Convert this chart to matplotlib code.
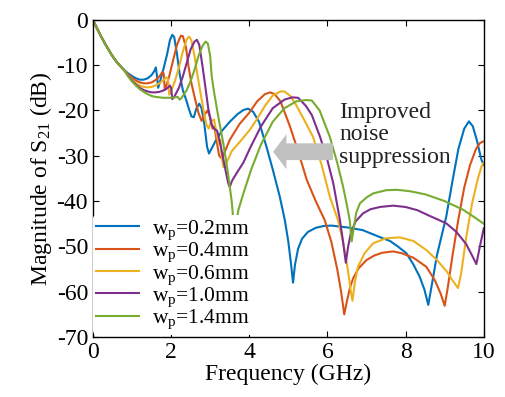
import matplotlib
matplotlib.use("Agg")
import matplotlib.pyplot as plt

# shared low-frequency part (all widths start identically)
f_start = [0, 0.1, 0.2, 0.3, 0.4, 0.5, 0.6, 0.7, 0.8]
s_start = [0, -1.8, -3.5, -5.1, -6.6, -8.0, -9.2, -10.2, -11.1]

# wp = 0.2mm
f_02 = [0.9, 1.0, 1.1, 1.2, 1.3, 1.4, 1.5, 1.57, 1.61, 1.64, 1.67, 1.72, 1.8, 1.9, 1.97,
        2.03, 2.08, 2.15, 2.22, 2.3, 2.38, 2.45, 2.52, 2.58, 2.65, 2.72, 2.78, 2.85, 2.92,
        2.97, 3.03, 3.15, 3.3, 3.5, 3.7, 3.85, 3.97, 4.1, 4.25, 4.44, 4.6, 4.78, 4.91, 5.0,
        5.07, 5.12, 5.17, 5.25, 5.35, 5.5, 5.7, 5.9, 6.1, 6.5, 6.9, 7.3, 7.6, 7.8, 8.02,
        8.2, 8.36, 8.48, 8.58, 8.66, 8.8, 9.04, 9.2, 9.35, 9.5, 9.62, 9.72, 9.82, 9.94, 10]
s_02 = [-11.8, -12.4, -12.9, -13.2, -13.2, -12.9, -12.2, -11.3, -10.5, -12.5, -15.0, -13.5,
        -11.0, -7.5, -4.5, -3.3, -3.8, -7.5, -12.0, -15.5, -17.5, -19.5, -21.3, -21.5, -19.5,
        -18.5, -19.5, -23.0, -28.0, -29.5, -28.5, -26.5, -24.5, -22.5, -20.8, -19.9, -19.6,
        -20.3, -22.5, -28.0, -33.0, -39.0, -44.2, -49.0, -54.0, -58.0, -54.0, -50.5, -48.3,
        -46.8, -45.9, -45.5, -45.4, -45.8, -46.4, -47.8, -48.8, -50.0, -51.5, -54.0, -56.7,
        -59.5, -62.9, -59.0, -52.0, -43.4, -35.5, -28.5, -24.0, -22.4, -23.5, -26.5, -30.9, -32.0]

# wp = 0.4mm
f_04 = [0.9, 1.0, 1.1, 1.2, 1.3, 1.4, 1.5, 1.6, 1.7, 1.78, 1.81, 1.84, 1.88, 1.95, 2.05,
        2.15, 2.25, 2.3, 2.38, 2.45, 2.52, 2.6, 2.7, 2.78, 2.85, 2.93, 3.0, 3.06, 3.11, 3.17,
        3.23, 3.29, 3.38, 3.5, 3.75, 4.0, 4.2, 4.4, 4.53, 4.65, 4.8, 5.04, 5.25, 5.47, 5.7,
        5.93, 6.1, 6.25, 6.35, 6.43, 6.5, 6.58, 6.66, 6.8, 7.0, 7.2, 7.4, 7.68, 7.9, 8.2,
        8.53, 8.75, 8.9, 9.0, 9.08, 9.2, 9.35, 9.5, 9.65, 9.8, 9.9, 10]
s_04 = [-12.0, -12.8, -13.4, -13.8, -14.0, -14.0, -13.8, -13.3, -12.5, -11.5, -11.8, -15.5,
        -14.5, -12.5, -9.0, -5.5, -3.5, -3.6, -6.0, -10.5, -14.0, -17.0, -20.5, -22.3, -21.0,
        -20.0, -21.5, -24.0, -23.5, -27.0, -30.0, -30.5, -29.0, -26.5, -23.0, -20.5, -18.0,
        -16.4, -16.0, -16.4, -18.0, -23.5, -29.0, -35.3, -40.0, -44.2, -49.0, -55.0, -60.0,
        -65.0, -62.0, -59.0, -57.0, -54.8, -53.0, -52.0, -51.4, -51.1, -51.5, -52.5, -54.5,
        -57.5, -60.5, -63.1, -59.0, -52.0, -44.0, -37.0, -32.0, -28.5, -27.2, -26.8]

# wp = 0.6mm
f_06 = [0.9, 1.0, 1.1, 1.2, 1.3, 1.4, 1.5, 1.6, 1.7, 1.8, 1.88, 1.92, 1.95, 2.0, 2.1, 2.2,
        2.3, 2.4, 2.46, 2.52, 2.6, 2.68, 2.75, 2.82, 2.9, 2.96, 3.02, 3.1, 3.16, 3.22, 3.26,
        3.3, 3.34, 3.42, 3.55, 3.8, 4.02, 4.19, 4.4, 4.6, 4.8, 4.9, 5.05, 5.2, 5.4, 5.63,
        5.85, 6.06, 6.27, 6.4, 6.52, 6.6, 6.64, 6.7, 6.78, 6.95, 7.17, 7.5, 7.85, 8.2, 8.53,
        8.8, 9.05, 9.2, 9.34, 9.42, 9.55, 9.7, 9.85, 9.94, 10]
s_06 = [-12.2, -13.2, -14.0, -14.5, -14.8, -14.9, -14.8, -14.5, -14.0, -13.3, -12.7, -13.0,
        -16.5, -15.8, -13.5, -10.5, -7.0, -4.3, -3.7, -4.5, -8.0, -12.5, -16.0, -19.5, -23.0,
        -24.0, -22.5, -22.0, -25.0, -27.5, -26.5, -30.5, -32.5, -31.5, -29.0, -26.5, -24.2,
        -22.0, -19.0, -16.7, -15.8, -15.8, -16.8, -18.8, -22.0, -25.8, -32.0, -39.0, -44.2,
        -49.0, -55.0, -60.0, -62.0, -58.0, -54.5, -51.5, -49.3, -48.2, -48.0, -48.8, -50.8,
        -53.0, -55.5, -57.5, -59.2, -56.0, -48.0, -40.5, -35.0, -32.4, -31.5]

# wp = 1.0mm
f_10 = [0.9, 1.0, 1.1, 1.2, 1.3, 1.4, 1.5, 1.6, 1.7, 1.8, 1.9, 1.97, 2.0, 2.03, 2.08, 2.2,
        2.3, 2.4, 2.5, 2.6, 2.66, 2.72, 2.8, 2.88, 2.95, 3.03, 3.1, 3.18, 3.25, 3.33, 3.4,
        3.46, 3.5, 3.56, 3.7, 3.85, 4.02, 4.3, 4.6, 4.9, 5.1, 5.25, 5.45, 5.6, 5.81, 6.0,
        6.15, 6.32, 6.4, 6.47, 6.53, 6.6, 6.72, 6.91, 7.1, 7.34, 7.68, 8.0, 8.3, 8.6, 9.04,
        9.3, 9.55, 9.7, 9.81, 9.9, 10]
s_10 = [-12.3, -13.4, -14.3, -15.0, -15.5, -15.8, -16.0, -16.0, -15.9, -15.6, -15.1, -14.5,
        -15.0, -17.5, -17.0, -15.0, -12.5, -9.5, -6.5, -4.8, -4.4, -5.5, -10.0, -15.0, -19.5,
        -23.0, -24.0, -24.5, -27.0, -30.5, -33.5, -36.0, -36.9, -35.5, -33.5, -31.5, -28.3,
        -23.5, -19.5, -17.6, -17.1, -17.2, -19.0, -21.0, -25.8, -31.0, -36.1, -44.2, -49.0,
        -53.6, -50.0, -47.0, -44.5, -42.7, -41.8, -41.3, -41.0, -41.3, -42.0, -43.2, -44.9,
        -46.8, -49.5, -52.0, -53.9, -50.0, -46.0]

# wp = 1.4mm
f_14 = [0.9, 1.0, 1.1, 1.2, 1.3, 1.4, 1.5, 1.6, 1.7, 1.8, 1.9, 2.0, 2.1, 2.17, 2.22, 2.27,
        2.4, 2.5, 2.6, 2.7, 2.8, 2.88, 2.94, 3.0, 3.04, 3.1, 3.2, 3.33, 3.45, 3.55, 3.6,
        3.63, 3.67, 3.72, 3.85, 4.05, 4.3, 4.6, 4.9, 5.2, 5.45, 5.6, 5.8, 6.06, 6.25, 6.4,
        6.5, 6.57, 6.62, 6.67, 6.74, 6.83, 7.0, 7.17, 7.5, 7.77, 8.1, 8.5, 9.0, 9.47, 9.75, 10]
s_14 = [-12.5, -13.6, -14.5, -15.3, -15.9, -16.4, -16.8, -17.0, -17.1, -17.2, -17.2, -17.2,
        -17.1, -17.0, -17.6, -17.2, -15.5, -13.5, -11.0, -8.0, -5.8, -4.8, -5.2, -8.0, -12.5,
        -16.0, -21.0, -27.0, -33.5, -40.0, -45.0, -50.0, -45.0, -42.0, -38.3, -33.0, -27.5,
        -22.5, -19.5, -18.0, -17.7, -17.8, -20.0, -25.8, -31.5, -36.8, -41.0, -44.2, -48.9,
        -46.0, -42.5, -40.5, -39.2, -38.3, -37.6, -37.5, -37.8, -38.5, -40.0, -41.9, -43.5, -45.0]

labels = ['w$_\\mathrm{p}$=0.2mm', 'w$_\\mathrm{p}$=0.4mm', 'w$_\\mathrm{p}$=0.6mm',
          'w$_\\mathrm{p}$=1.0mm', 'w$_\\mathrm{p}$=1.4mm']
colors = ['#0072BD', '#D95319', '#EDB120', '#7E2F8E', '#77AC30']

plt.rcParams['font.family'] = ['Liberation Serif', 'DejaVu Serif']
plt.rcParams['mathtext.fontset'] = 'custom'
plt.rcParams['mathtext.rm'] = 'Liberation Serif'
plt.rcParams['mathtext.it'] = 'Liberation Serif:italic'
plt.rcParams['axes.unicode_minus'] = False

fig = plt.figure(figsize=(5.05, 3.97), dpi=100)
ax = fig.add_axes([0.184, 0.151, 0.774, 0.799])

series = [(f_02, s_02), (f_04, s_04), (f_06, s_06), (f_10, s_10), (f_14, s_14)]
for (f, s), lab, c in zip(series, labels, colors):
    ax.plot(f_start + f, s_start + s, color=c, lw=1.5, label=lab)

# arrow marking the shift of the stop band
ax.arrow(6.14, -29.1, -1.53, 0, width=3.7, head_width=7.7, head_length=0.34,
         length_includes_head=True, color='#c0c0c0', ec='none', zorder=5)
ax.text(6.3, -25.4, 'Improved\nnoise\nsuppression', fontsize=17, va='center',
        ha='left', linespacing=1.08, color='#222222', zorder=6)

ax.set_xlim(0, 10)
ax.set_ylim(-70, 0)
ax.set_xticks([0, 2, 4, 6, 8, 10])
ax.set_yticks([0, -10, -20, -30, -40, -50, -60, -70])
ax.tick_params(direction='in', top=True, right=True, labelsize=17, length=4, width=0.8)
for sp in ax.spines.values():
    sp.set_linewidth(1.0)
ax.set_xlabel('Frequency (GHz)', fontsize=17, labelpad=1)
ax.set_ylabel('Magnitude of S$_{\\mathrm{21}}$ (dB)', fontsize=17, labelpad=2)

leg = ax.legend(loc='upper left', bbox_to_anchor=(0.0, 0.385), fontsize=15.5,
                frameon=True, handlelength=2.0, labelspacing=-0.05, borderaxespad=0.0,
                handletextpad=0.6, borderpad=0.15)
leg.get_frame().set_edgecolor('none')
leg.get_frame().set_facecolor('white')
leg.get_frame().set_alpha(1)

fig.savefig('out.png', dpi=100)
